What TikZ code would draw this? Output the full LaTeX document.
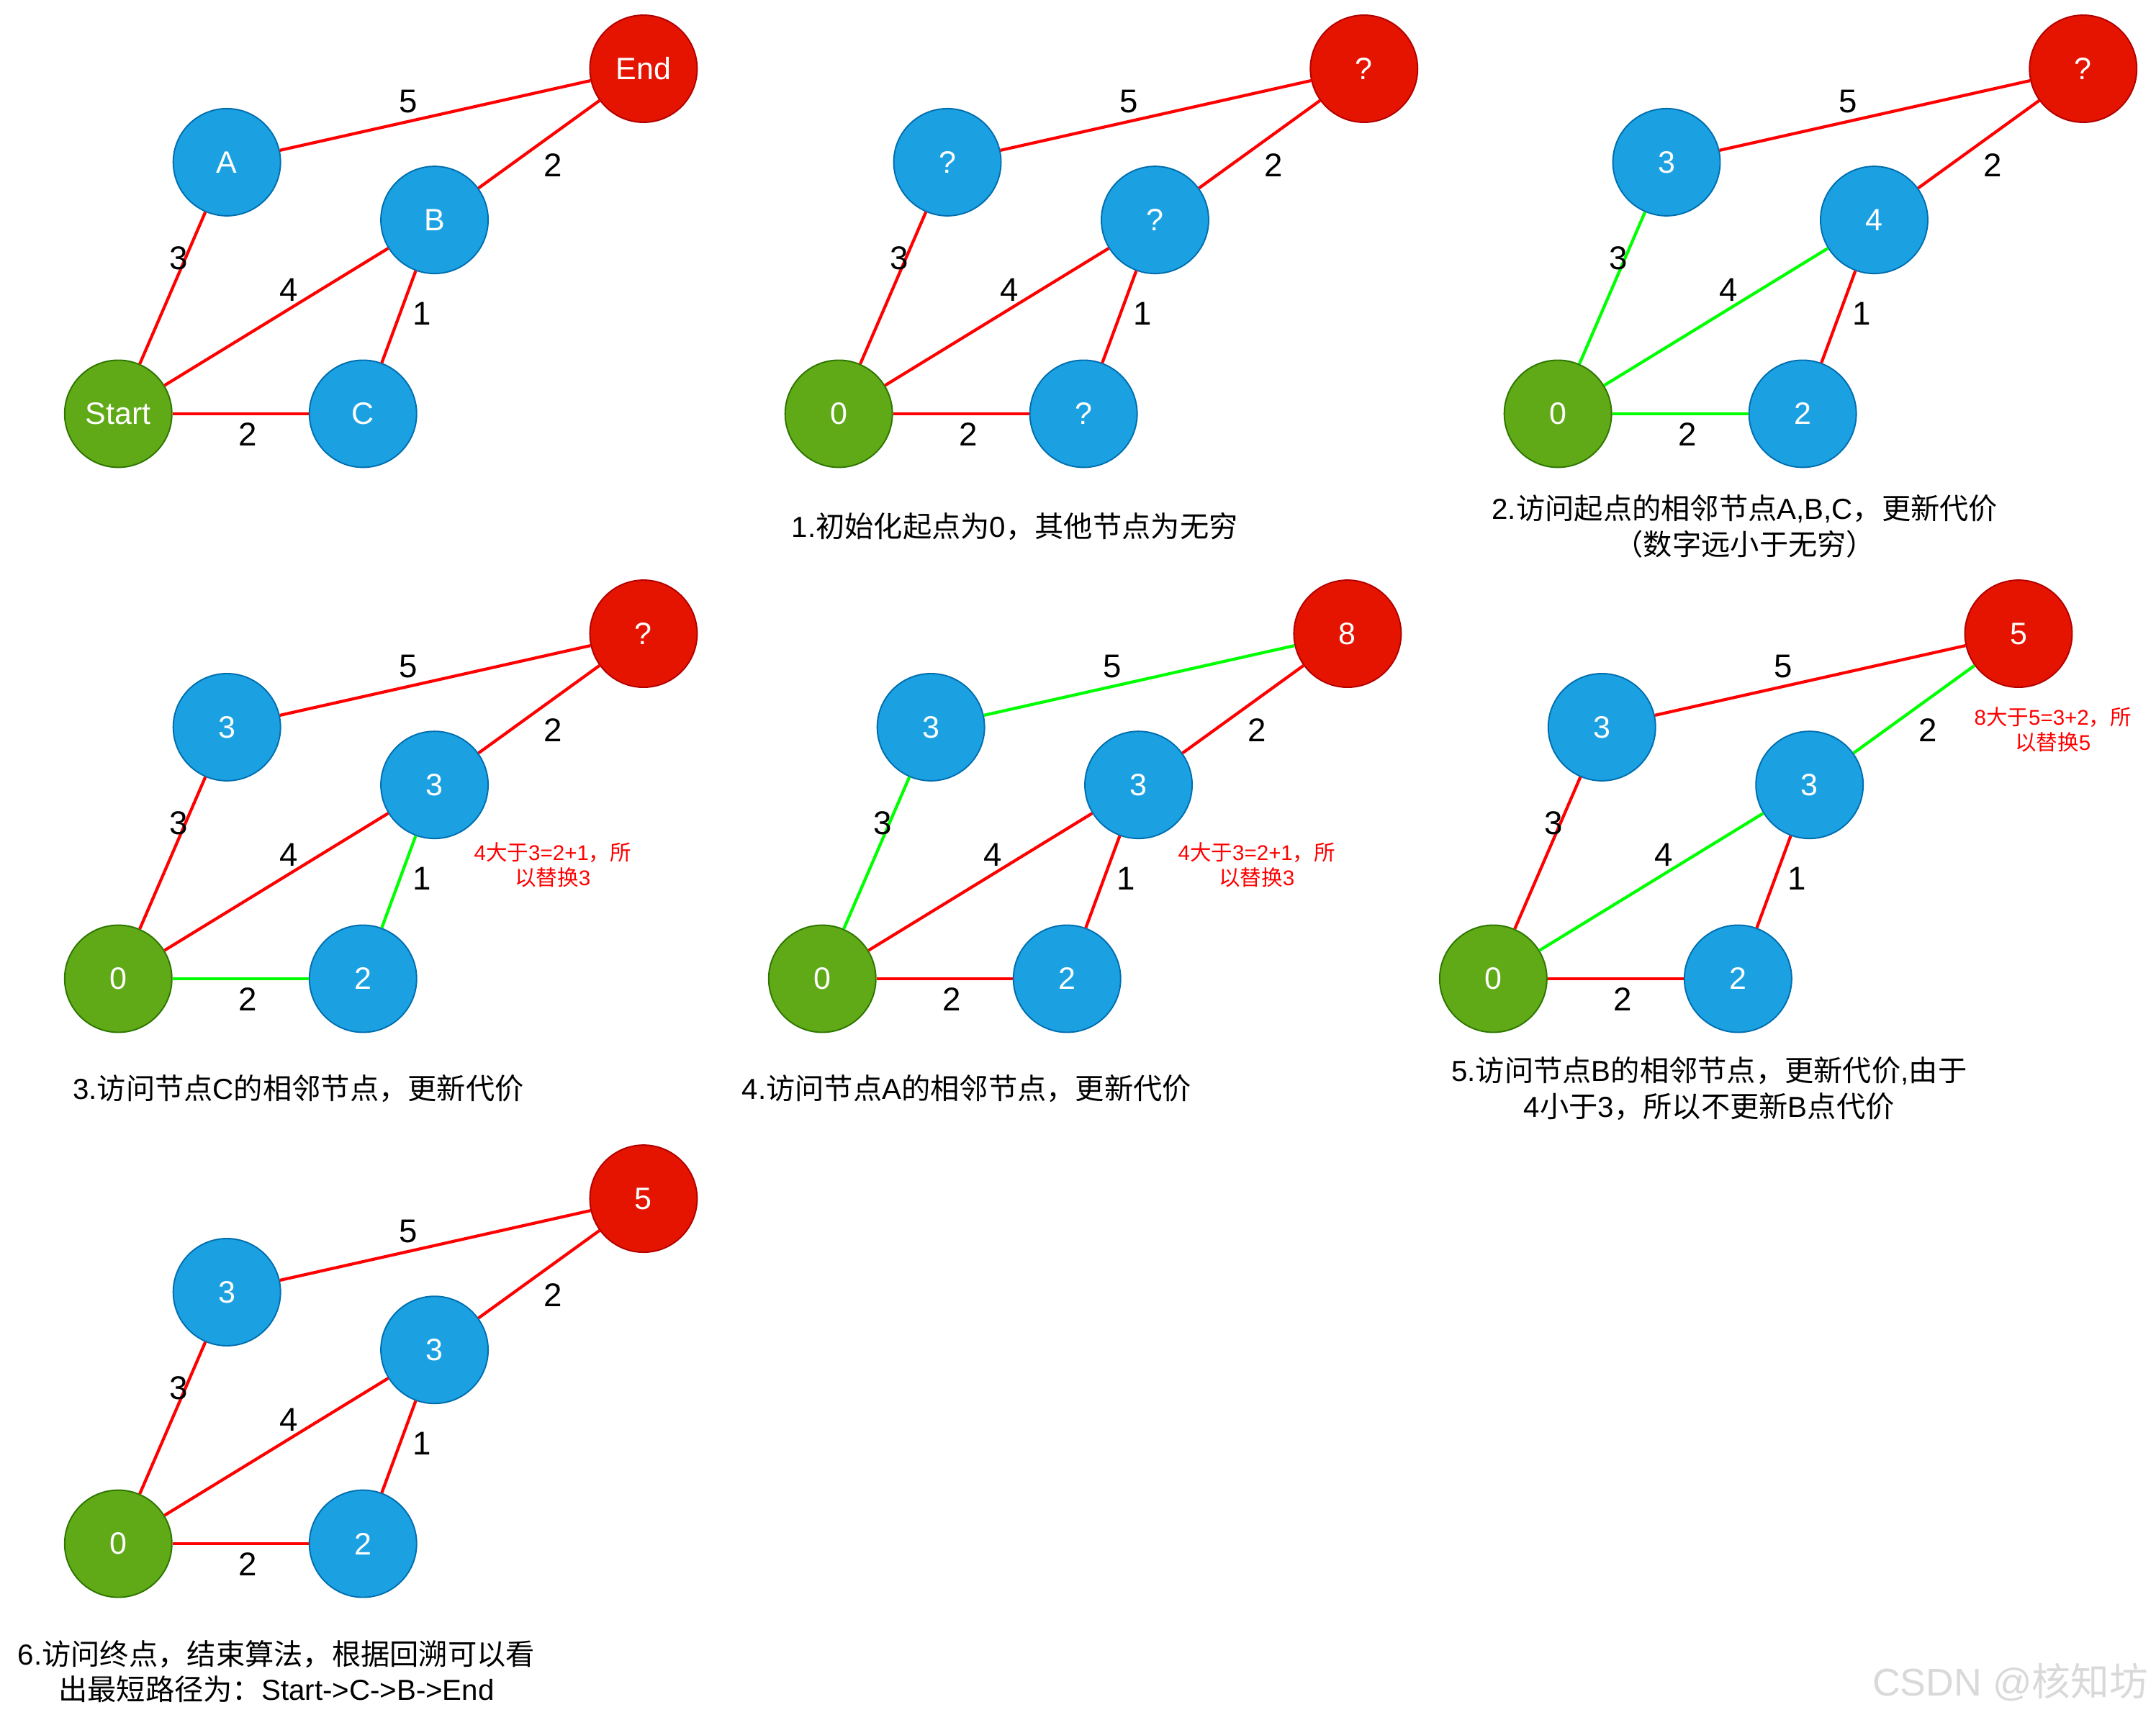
\documentclass[tikz,border=0pt]{standalone}
\usepackage{fontspec}
\setmainfont{Liberation Sans}
\newfontfamily\cjk{Noto Sans CJK SC}
\definecolor{nodeblue}{HTML}{1BA1E2}
\definecolor{nodeblueline}{HTML}{006EAF}
\definecolor{nodegreen}{HTML}{60A917}
\definecolor{nodegreenline}{HTML}{2D7600}
\definecolor{nodered}{HTML}{E51400}
\definecolor{noderedline}{HTML}{B20000}
\definecolor{linkred}{HTML}{FF0000}
\definecolor{linkgreen}{HTML}{00FF00}

\tikzset{
  vert/.style={circle, draw, line width=0.05cm, minimum size=3.9cm, inner sep=0pt,
               text=white, font=\fontsize{32}{38}\selectfont},
  vstart/.style={vert, fill=nodegreen, draw=nodegreenline},
  vmid/.style={vert, fill=nodeblue, draw=nodeblueline},
  vend/.style={vert, fill=nodered, draw=noderedline},
  link/.style={line width=0.11cm, linkred},
  hot/.style={linkgreen},
  eSA/.style={}, eSB/.style={}, eSC/.style={},
  eAE/.style={}, eBE/.style={}, eBC/.style={},
  wlabel/.style={inner sep=0pt, font=\fontsize{34}{40}\selectfont},
  caption/.style={align=center, font=\fontsize{30}{37}\selectfont},
  remark/.style={align=center, text=linkred, font=\fontsize{22}{26}\selectfont}
}

% one graph: prefix, shift, labels Start/A/B/C/End, edge colours
\newcommand{\dpanel}[8]{%
  \begin{scope}[shift={#2}, #8]
    \node[vstart] (#1s) at (86,301) {#3};
    \node[vmid]   (#1a) at (165,118) {#4};
    \node[vmid]   (#1b) at (316,160) {#5};
    \node[vmid]   (#1c) at (264,301) {#6};
    \node[vend]   (#1e) at (468,50) {#7};
    \draw[link, eAE] (#1a) -- (#1e);
    \draw[link, eBE] (#1b) -- (#1e);
    \draw[link, eSA] (#1s) -- (#1a);
    \draw[link, eSB] (#1s) -- (#1b);
    \draw[link, eBC] (#1b) -- (#1c);
    \draw[link, eSC] (#1s) -- (#1c);
    \node[wlabel] (#1wae) at (297,74) {5};
    \node[wlabel] (#1wbe) at (402,120) {2};
    \node[wlabel] (#1wsa) at (130,188) {3};
    \node[wlabel] (#1wsb) at (210,211) {4};
    \node[wlabel] (#1wbc) at (307,228) {1};
    \node[wlabel] (#1wsc) at (180,316) {2};
  \end{scope}}

\begin{document}
\begin{tikzpicture}[x=0.05cm, y=-0.05cm]
\useasboundingbox (0,0) rectangle (1568,1251);

% row 1
\dpanel{p}{(0,0)}{Start}{A}{B}{C}{End}{}
\dpanel{q}{(524,0)}{0}{?}{?}{?}{?}{}
\dpanel{r}{(1047,0)}{0}{3}{4}{2}{?}{eSA/.style=hot, eSB/.style=hot, eSC/.style=hot}
% row 2
\dpanel{s}{(0,411)}{0}{3}{3}{2}{?}{eSC/.style=hot, eBC/.style=hot}
\dpanel{t}{(512,411)}{0}{3}{3}{2}{8}{eSA/.style=hot, eAE/.style=hot}
\dpanel{u}{(1000,411)}{0}{3}{3}{2}{5}{eSB/.style=hot, eBE/.style=hot}
% row 3
\dpanel{v}{(0,822)}{0}{3}{3}{2}{5}{}

% captions
\node[caption] (cap1) at (738,383) {1.{\cjk 初始化起点为}0{\cjk ，其他节点为无穷}};
\node[caption] (cap2) at (1269,383) {2.{\cjk 访问起点的相邻节点}A,B,C{\cjk ，更新代价}\\{\cjk （数字远小于无穷）}};
\node[caption] (cap3) at (217,792) {3.{\cjk 访问节点}C{\cjk 的相邻节点，更新代价}};
\node[caption] (cap4) at (703,792) {4.{\cjk 访问节点}A{\cjk 的相邻节点，更新代价}};
\node[caption] (cap5) at (1243,792) {5.{\cjk 访问节点}B{\cjk 的相邻节点，更新代价},{\cjk 由于}\\4{\cjk 小于}3{\cjk ，所以不更新}B{\cjk 点代价}};
\node[caption] (cap6) at (201,1216) {6.{\cjk 访问终点，结束算法，根据回溯可以看}\\{\cjk 出最短路径为：}Start->C->B->End};

% notes in red
\node[remark] (rem1) at (402,629) {4{\cjk 大于}3=2+1{\cjk ，所}\\{\cjk 以替换}3};
\node[remark] (rem2) at (914,629) {4{\cjk 大于}3=2+1{\cjk ，所}\\{\cjk 以替换}3};
\node[remark] (rem3) at (1493,531) {8{\cjk 大于}5=3+2{\cjk ，所}\\{\cjk 以替换}5};

\node[text=gray!30, font=\fontsize{40}{48}\selectfont] (mark) at (1462,1224) {CSDN @{\cjk 核知坊}};
\end{tikzpicture}
\end{document}
